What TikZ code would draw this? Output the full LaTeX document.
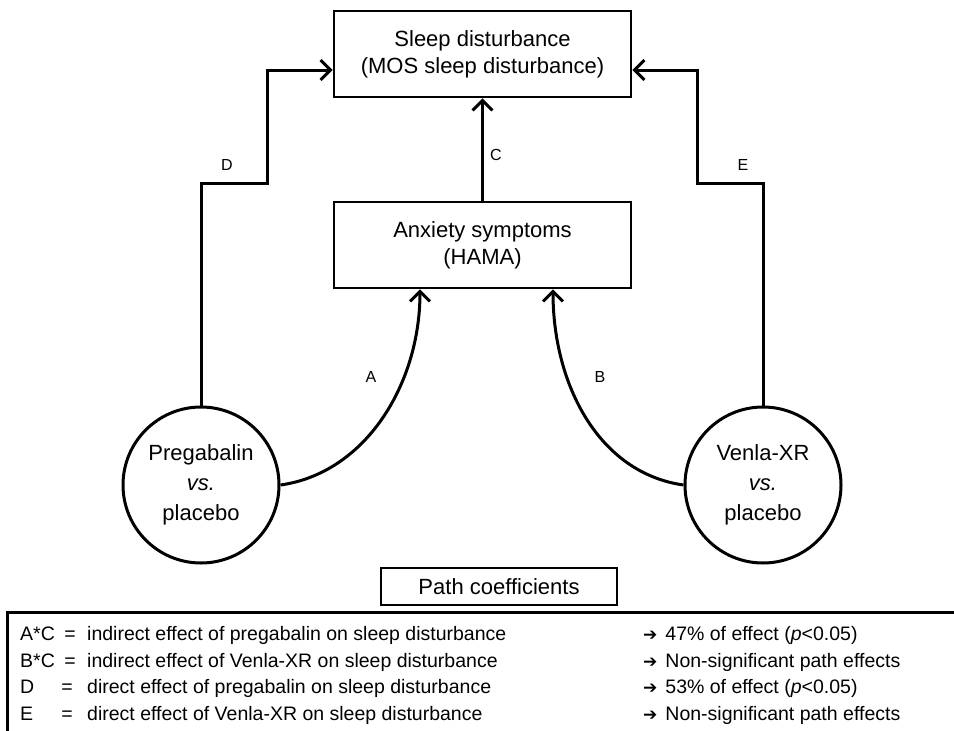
\documentclass[tikz,border=0pt]{standalone}
\usepackage{fontspec}
\setmainfont{Liberation Sans}
\newfontfamily\arrowfont{DejaVu Sans}
\usetikzlibrary{arrows.meta, positioning}
\tikzset{
  box/.style={rectangle, draw=black, line width=2.6pt, minimum width=297pt, minimum height=86pt, inner sep=0pt, align=center, font=\fontsize{22}{27}\selectfont},
  drug/.style={circle, draw=black, line width=3pt, minimum size=156pt, inner sep=0pt, align=center, font=\fontsize{22}{30}\selectfont},
  arrow/.style={line width=3pt, -{Straight Barb[length=10pt,width=20pt]}},
  pathlbl/.style={inner sep=0pt, font=\fontsize{16}{16}\selectfont},
  keytitle/.style={rectangle, draw=black, line width=2.6pt, minimum width=236pt, minimum height=37pt, inner sep=0pt, font=\fontsize{22}{26}\selectfont},
  keyframe/.style={line width=3pt},
  legend/.style={anchor=west, inner sep=0pt, text height=14pt, text depth=4pt, font=\fontsize{19.5}{24}\selectfont},
  equals/.style={inner sep=0pt, text height=14pt, text depth=4pt, font=\fontsize{19.5}{24}\selectfont}
}

\begin{document}
\begin{tikzpicture}[x=1pt, y=-1pt]
  \useasboundingbox (0,0) rectangle (954,731);

  \node (sleep) [box] at (482.5,54) {Sleep disturbance\\(MOS sleep disturbance)};
  \node (anxiety) [box] at (482.5,245) {Anxiety symptoms\\(HAMA)};
  \node (prega) [drug] at (201,485) {Pregabalin\\\textit{vs.}\\placebo};
  \node (venla) [drug] at (763,485) {Venla-XR\\\textit{vs.}\\placebo};

  \coordinate (dturn) at (267,183);
  \coordinate (eturn) at (697,183);

  \node (labD) [pathlbl] at (227,165) {D};
  \node (labC) [pathlbl] at (496,155) {C};
  \node (labE) [pathlbl] at (743,165) {E};
  \node (labA) [pathlbl] at (371,377) {A};
  \node (labB) [pathlbl] at (600,377) {B};

  \draw [arrow] (anxiety) -- (sleep);
  \draw [arrow] (prega.north) |- (dturn) |- ([yshift=-16pt]sleep.west);
  \draw [arrow] (venla.north) |- (eturn) |- ([yshift=-16pt]sleep.east);
  \draw [arrow] (prega.east) .. controls +(85,-12) and +(0,95) .. ([xshift=-62.5pt]anxiety.south);
  \draw [arrow] (venla.west) .. controls +(-85,-12) and +(0,95) .. ([xshift=70.5pt]anxiety.south);

  % path coefficients key
  \node (keyhead) [keytitle] at (499,586.5) {Path coefficients};
  \draw [keyframe] (7,731) |- (954,612);

  \node (keyAC) [legend] at (20,635) {A*C};
  \node (eqAC) [equals] at (70,635) {=};
  \node (descAC) [legend] at (87,635) {indirect effect of pregabalin on sleep disturbance};
  \node (resAC) [legend] at (643,635) {{\arrowfont\fontsize{17}{17}\selectfont ➔}\hspace{8pt}47\% of effect (\textit{p}<0.05)};

  \node (keyBC) [legend] at (20,662) {B*C};
  \node (eqBC) [equals] at (70,662) {=};
  \node (descBC) [legend] at (87,662) {indirect effect of Venla-XR on sleep disturbance};
  \node (resBC) [legend] at (643,662) {{\arrowfont\fontsize{17}{17}\selectfont ➔}\hspace{8pt}Non-significant path effects};

  \node (keyD) [legend] at (20,688) {D};
  \node (eqD) [equals] at (67,688) {=};
  \node (descD) [legend] at (87,688) {direct effect of pregabalin on sleep disturbance};
  \node (resD) [legend] at (643,688) {{\arrowfont\fontsize{17}{17}\selectfont ➔}\hspace{8pt}53\% of effect (\textit{p}<0.05)};

  \node (keyE) [legend] at (20,715) {E};
  \node (eqE) [equals] at (67,715) {=};
  \node (descE) [legend] at (87,715) {direct effect of Venla-XR on sleep disturbance};
  \node (resE) [legend] at (643,715) {{\arrowfont\fontsize{17}{17}\selectfont ➔}\hspace{8pt}Non-significant path effects};

\end{tikzpicture}
\end{document}
